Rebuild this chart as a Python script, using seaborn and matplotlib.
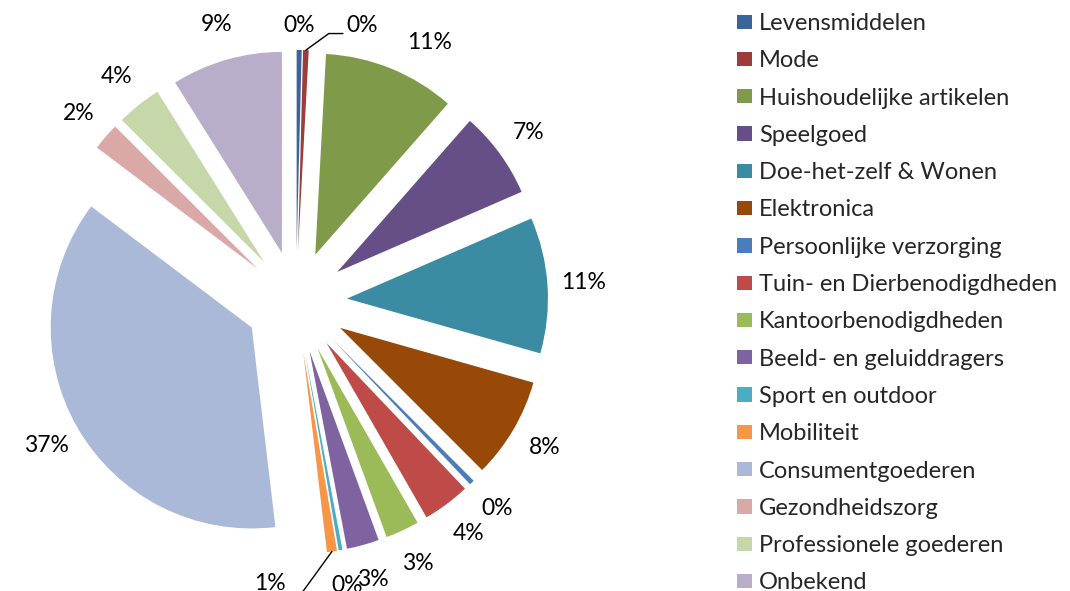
import matplotlib
matplotlib.use('Agg')
import matplotlib.pyplot as plt
import seaborn as sns
import numpy as np

categories = ['Levensmiddelen', 'Mode', 'Huishoudelijke artikelen', 'Speelgoed',
              'Doe-het-zelf & Wonen', 'Elektronica', 'Persoonlijke verzorging',
              'Tuin- en Dierbenodigdheden', 'Kantoorbenodigdheden',
              'Beeld- en geluiddragers', 'Sport en outdoor', 'Mobiliteit',
              'Consumentgoederen', 'Gezondheidszorg', 'Professionele goederen',
              'Onbekend']
shares = [0.4, 0.45, 10.6, 7.0, 10.9, 8.1, 0.4, 3.8, 2.7, 2.6, 0.3, 0.8,
          37.1, 2.2, 3.6, 8.9]
colors = ['#3B659A', '#9C3D3A', '#7F9A48', '#664F86', '#3B8CA3', '#984807',
          '#4A7EBB', '#BE4B48', '#9BBB59', '#7F63A1', '#4BACC6', '#F79646',
          '#A9B9D7', '#D9A8A7', '#C6D7AA', '#B9AECA']

sns.set_style('white')
plt.rcParams['font.family'] = ['Lato', 'DejaVu Sans']

W, H = 1070, 591
fig = plt.figure(figsize=(W / 100, H / 100), dpi=100)
ax = fig.add_axes([0, 0, 1, 1])

label_font = dict(fontsize=16.5, color='black')

wedges, texts, autotexts = ax.pie(
    shares, colors=sns.color_palette(colors), explode=[0.254] * len(shares),
    startangle=90, counterclock=False, autopct=lambda p: f'{p:.0f}%',
    pctdistance=1.18, wedgeprops=dict(linewidth=0), textprops=label_font)

# pie centre and scale in pixels
cx, cy, s = 296, 302, 201
ax.set_xlim(-cx / s, (W - cx) / s)
ax.set_ylim(-(H - cy) / s, cy / s)
ax.axis('off')


def along(w, f, turn=0):
    # point on a wedge's mid angle (optionally turned, degrees) at f times its radius
    th = np.deg2rad((w.theta1 + w.theta2) / 2 + turn)
    return (w.center[0] + f * w.r * np.cos(th), w.center[1] + f * w.r * np.sin(th))


# a couple of labels sit slightly off the default spot, as in the original
autotexts[0].set_position(along(wedges[0], 1.12))
autotexts[2].set_position(along(wedges[2], 1.2, turn=-6))

# small slices with leader lines
i = categories.index('Mode')
autotexts[i].set_visible(False)
ax.annotate(autotexts[i].get_text(), xy=along(wedges[i], 1.0), xytext=(29, 18),
            textcoords='offset points', ha='left', va='center', **label_font,
            arrowprops=dict(arrowstyle='-', color='black', lw=1,
                            connectionstyle='angle,angleA=0,angleB=36',
                            relpos=(0, 0.1), shrinkA=0, shrinkB=0))

i = categories.index('Mobiliteit')
autotexts[i].set_visible(False)
ax.annotate(autotexts[i].get_text(), xy=along(wedges[i], 1.0), xytext=(-33, -23),
            textcoords='offset points', ha='right', va='center', **label_font,
            arrowprops=dict(arrowstyle='-', color='black', lw=1,
                            connectionstyle='angle,angleA=0,angleB=54',
                            relpos=(1, 0.1), shrinkA=0, shrinkB=0))

fig.legend(wedges, categories, loc='upper left',
           bbox_to_anchor=(737 / W, 1 - 13 / H), frameon=False, fontsize=17,
           handlelength=0.64, handleheight=0.55, handletextpad=0.3,
           labelspacing=0.69, borderpad=0, borderaxespad=0)

fig.savefig('out.png', dpi=100)
